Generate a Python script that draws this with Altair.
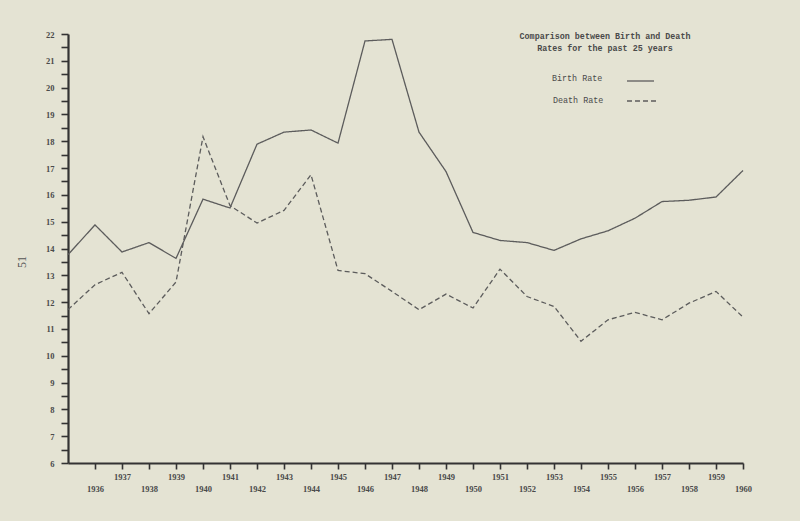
import altair as alt
import pandas as pd

years = list(range(1935, 1961))
birth = [13.77, 14.88, 13.87, 14.22, 13.63, 15.84, 15.51, 17.89, 18.34, 18.42,
         17.93, 21.74, 21.80, 18.34, 16.87, 14.60, 14.30, 14.22, 13.93, 14.36,
         14.66, 15.13, 15.75, 15.80, 15.92, 16.91]
death = [11.72, 12.65, 13.11, 11.57, 12.75, 18.17, 15.60, 14.95, 15.42, 16.75,
         13.18, 13.06, 12.40, 11.72, 12.30, 11.78, 13.23, 12.21, 11.84, 10.54,
         11.34, 11.62, 11.34, 11.96, 12.40, 11.44]
series_names = ["Birth Rate", "Death Rate"]
tick_years = list(range(1936, 1961))
y_ticks = [6 + 0.5 * i for i in range(33)]
title_lines = ["Comparison between Birth and Death", "Rates for the past 25 years"]
page_number = "51"

df = pd.DataFrame({
    "year": years * 2,
    "rate": birth + death,
    "series": [series_names[0]] * len(years) + [series_names[1]] * len(years),
})

W, H = 675, 429
ink = "#4a4a4a"
line_col = "#5c5c5c"

x_enc = alt.X(
    "year:Q",
    scale=alt.Scale(domain=[1935, 1960], nice=False, zero=False),
    axis=alt.Axis(
        values=tick_years, format="d", title=None, grid=False,
        labelExpr="datum.value % 2 == 0 ? ['', datum.label] : datum.label",
        labelLineHeight=12, labelFont="Liberation Serif", labelFontSize=8.5,
        labelFontWeight="bold", labelColor=ink, labelPadding=3,
        tickSize=6, tickWidth=1.6, tickColor="#333333",
        domainColor="#333333", domainWidth=2.2, labelFlush=False,
    ),
)
y_enc = alt.Y(
    "rate:Q",
    scale=alt.Scale(domain=[6, 22], nice=False, zero=False),
    axis=alt.Axis(
        values=y_ticks, title=None, grid=False,
        labelExpr="datum.value % 1 == 0 ? format(datum.value, 'd') : ''",
        labelFont="Liberation Serif", labelFontSize=8.5, labelFontWeight="bold",
        labelColor=ink, labelPadding=7, tickSize=7, tickWidth=1.6,
        tickColor="#333333", domainColor="#333333", domainWidth=2.2,
        labelFlush=False,
    ),
)

lines = alt.Chart(df).mark_line(strokeWidth=1.3).encode(
    x=x_enc,
    y=y_enc,
    strokeDash=alt.StrokeDash(
        "series:N",
        scale=alt.Scale(domain=series_names, range=[[1, 0], [5, 3]]),
        legend=None,
    ),
    color=alt.value(line_col),
    detail="series:N",
)

mono = "Liberation Mono"
t1 = alt.Chart(pd.DataFrame({"t": [title_lines[0]]})).mark_text(
    font=mono, fontSize=8.4, fontWeight="bold", color=ink, align="center", baseline="middle"
).encode(x=alt.value(537), y=alt.value(2), text="t:N")
t2 = alt.Chart(pd.DataFrame({"t": [title_lines[1]]})).mark_text(
    font=mono, fontSize=8.4, fontWeight="bold", color=ink, align="center", baseline="middle"
).encode(x=alt.value(537), y=alt.value(14), text="t:N")

lb = alt.Chart(pd.DataFrame({"t": [series_names[0]]})).mark_text(
    font=mono, fontSize=8.4, color=ink, align="left", baseline="middle"
).encode(x=alt.value(484), y=alt.value(44), text="t:N")
ld = alt.Chart(pd.DataFrame({"t": [series_names[1]]})).mark_text(
    font=mono, fontSize=8.4, color=ink, align="left", baseline="middle"
).encode(x=alt.value(485), y=alt.value(66), text="t:N")

rb = alt.Chart(pd.DataFrame({"s": [series_names[0]]})).mark_rule(
    color=line_col, strokeWidth=1.3
).encode(x=alt.value(559), x2=alt.value(586), y=alt.value(47))
rd = alt.Chart(pd.DataFrame({"s": [series_names[1]]})).mark_rule(
    color=line_col, strokeWidth=1.3, strokeDash=[5, 3]
).encode(x=alt.value(559), x2=alt.value(590), y=alt.value(67))

pn = alt.Chart(pd.DataFrame({"t": [page_number]})).mark_text(
    font="Liberation Serif", fontSize=12, color="#555555", angle=270,
    align="center", baseline="middle"
).encode(x=alt.value(-46), y=alt.value(228), text="t:N")

chart = alt.layer(lines, t1, t2, lb, ld, rb, rd, pn).properties(
    width=W, height=H,
    background="#e4e3d3",
    padding={"left": 68, "top": 34, "right": 57, "bottom": 58},
    autosize=alt.AutoSizeParams(type="none"),
).configure_view(stroke=None)

chart.save("out.html", embed_options={"renderer": "svg", "actions": False})
